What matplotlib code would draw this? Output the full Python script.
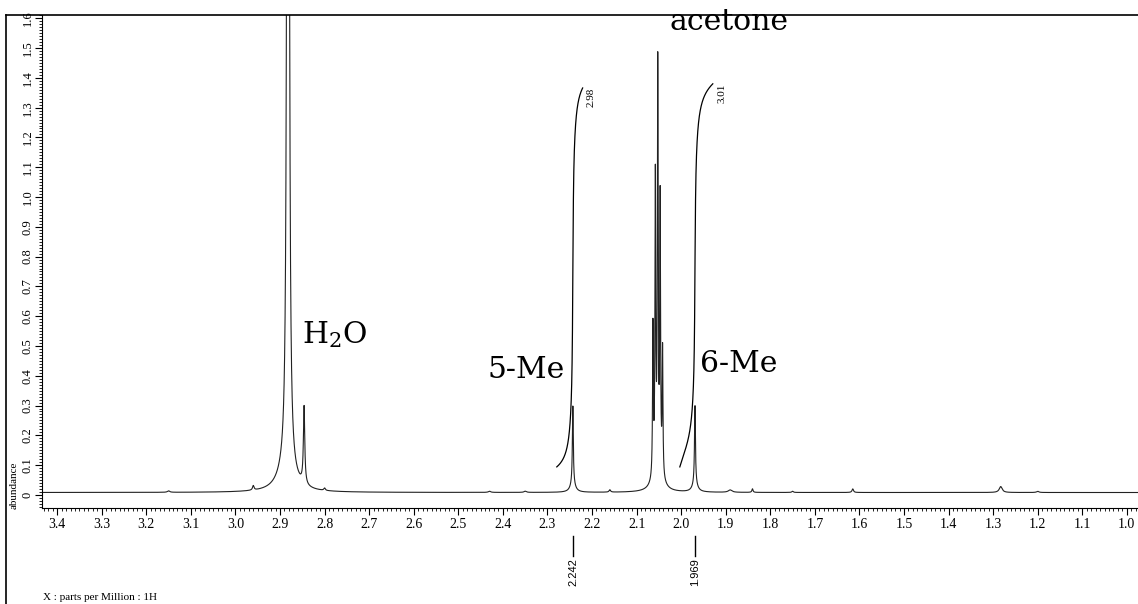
import numpy as np
import matplotlib
matplotlib.use("Agg")
import matplotlib.pyplot as plt
from matplotlib.lines import Line2D
from matplotlib.ticker import MultipleLocator, FuncFormatter
import matplotlib.transforms as mtransforms

# peaks of the 1H spectrum: position (ppm), height (abundance), half width (ppm)
peak_ppm = [2.882, 2.886, 2.846, 2.960, 2.800, 3.150, 2.350, 2.430,
            2.243, 2.243,
            2.0633, 2.0579, 2.0525, 2.0471, 2.0417, 2.0525,
            2.160, 1.969, 1.969, 1.890, 1.840, 1.750, 1.615, 1.283, 1.200]
peak_height = [14.0, 0.07, 0.26, 0.015, 0.008, 0.005, 0.004, 0.004,
               0.26, 0.03,
               0.50, 0.97, 1.33, 0.90, 0.42, 0.08,
               0.008, 0.26, 0.03, 0.008, 0.012, 0.004, 0.012, 0.02, 0.004]
peak_width = [0.0013, 0.02, 0.0018, 0.002, 0.002, 0.003, 0.003, 0.003,
              0.0012, 0.006,
              0.0010, 0.0010, 0.0010, 0.0010, 0.0010, 0.010,
              0.002, 0.0012, 0.006, 0.005, 0.0015, 0.002, 0.002, 0.004, 0.003]
baseline = 0.008

# integral regions: start ppm, end ppm, start level, end level, label
int_start = [2.279, 2.003]
int_end = [2.221, 1.929]
int_low = [0.094, 0.094]
int_high = [1.366, 1.38]
int_label = ["2.98", "3.01"]
int_label_pos = [(2.201, 1.336), (1.909, 1.349)]

# picked peaks shown under the axis
pick_ppm = [2.242, 1.969]

# annotations
ann_text = [r"H$_2$O", "5-Me", "6-Me", "acetone"]
ann_xy = [(2.851, 0.51), (2.261, 0.393), (1.958, 0.413), (2.026, 1.56)]
ann_ha = ["left", "right", "left", "left"]

x_ticks = [3.4, 3.3, 3.2, 3.1, 3.0, 2.9, 2.8, 2.7, 2.6, 2.5, 2.4, 2.3, 2.2,
           2.1, 2.0, 1.9, 1.8, 1.7, 1.6, 1.5, 1.4, 1.3, 1.2, 1.1, 1.0]


def spectrum(x):
    y = np.full_like(x, baseline)
    for p, h, w in zip(peak_ppm, peak_height, peak_width):
        y += h / (1 + ((x - p) / w) ** 2)
    return y


plt.rcParams['mathtext.fontset'] = 'dejavuserif'
fig = plt.figure(figsize=(11.38, 6.04), dpi=100)
ax = fig.add_axes([42/1138, 96/604, 1096/1138, 493/604])

xx = np.linspace(3.45, 0.95, 80000)
yy = spectrum(xx)
ax.plot(xx, yy, color='#222222', lw=0.8)

# integral curves
for a, b, lo, hi in zip(int_start, int_end, int_low, int_high):
    xi = np.linspace(a, b, 3000)
    yi = spectrum(xi) - baseline
    ci = np.cumsum(yi)
    ci = (ci - ci[0]) / (ci[-1] - ci[0])
    ax.plot(xi, lo + ci * (hi - lo), color='black', lw=0.9)
for lab, (px, py) in zip(int_label, int_label_pos):
    ax.text(px, py, lab, rotation=90, ha='center', va='center',
            fontsize=8, family='Liberation Serif')

for t, (px, py), ha in zip(ann_text, ann_xy, ann_ha):
    ax.text(px, py, t, ha=ha, va='baseline', fontsize=21.5,
            family='DejaVu Serif', color='black')

trans = mtransforms.blended_transform_factory(ax.transData, ax.transAxes)
for p in pick_ppm:
    ax.plot([p, p], [-0.057, -0.097], color='black', lw=1.0,
            transform=trans, clip_on=False)
    ax.text(p, -0.101, "%.3f" % p, rotation=90, ha='center', va='top',
            fontsize=8, family='Liberation Sans', transform=trans)

ax.set_xlim(3.434, 0.975)
ax.set_ylim(-0.044, 1.611)
ax.spines['top'].set_visible(False)
ax.spines['right'].set_visible(False)
ax.set_xticks(x_ticks)
ax.xaxis.set_major_formatter(FuncFormatter(lambda v, pos: "%.1f" % v))
ax.xaxis.set_minor_locator(MultipleLocator(0.01))
ax.yaxis.set_major_locator(MultipleLocator(0.1))
ax.yaxis.set_minor_locator(MultipleLocator(0.01))
ax.yaxis.set_major_formatter(FuncFormatter(lambda v, pos: "0" if abs(v) < 1e-6 else "%.1f" % v))
ax.tick_params(axis='both', which='major', direction='out', length=5, width=0.8,
               labelsize=10, pad=2)
ax.tick_params(axis='y', which='major', labelsize=9, pad=1)
ax.tick_params(axis='both', which='minor', direction='out', length=2.5, width=0.6)
for lab in ax.get_xticklabels() + ax.get_yticklabels():
    lab.set_family('Liberation Serif')
for lab in ax.get_yticklabels():
    lab.set_rotation(90)
    lab.set_va('center')

fig.text(14/1138, 1 - 485/604, "abundance", rotation=90, ha='center', va='center',
         fontsize=8, family='Liberation Serif')
fig.text(43/1138, 1 - 598/604, "X : parts per Million : 1H", ha='left', va='center',
         fontsize=8, family='Liberation Serif')

# outer frame lines
fig.add_artist(Line2D([6/1138, 1.0], [1 - 15/604, 1 - 15/604], color='black', lw=1.2))
fig.add_artist(Line2D([6/1138, 6/1138], [0, 1 - 15/604], color='black', lw=1.2))

fig.savefig("out.png", dpi=100)
